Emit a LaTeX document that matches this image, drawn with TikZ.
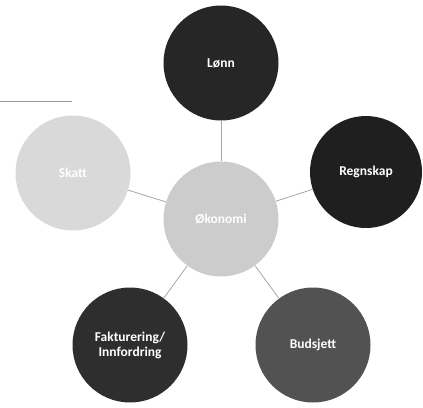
\documentclass[tikz,border=0pt]{standalone}
\usepackage{fontspec}
\setmainfont{Carlito}
\begin{document}
\begin{tikzpicture}[x=1pt,y=-1pt,
  bub/.style={circle,minimum size=115pt,inner sep=0pt,draw=none,align=center,font=\bfseries\fontsize{13.5}{15}\selectfont,text=white},
  link/.style={draw=gray!70,line width=0.8pt}]
\useasboundingbox (0,0) rectangle (423,407);
\node[bub,fill=black!85] (lonn) at (221,63) {Lønn};
\node[bub,fill=black!88,minimum size=112pt] (regn) at (366,172) {Regnskap};
\node[bub,fill=black!20] (oko) at (221,219) {Økonomi};
\node[bub,fill=black!15] (skatt) at (73,173) {Skatt};
\node[bub,fill=black!82] (fakt) at (130,345) {Fakturering/\\Innfordring};
\node[bub,fill=black!68] (buds) at (313,345) {Budsjett};
\draw[link] (oko) -- (lonn);
\draw[link] (oko) -- (regn);
\draw[link] (oko) -- (skatt);
\draw[link] (oko) -- (fakt);
\draw[link] (oko) -- (buds);
\coordinate (h1) at (0,101);
\coordinate (h2) at (72,101);
\draw[draw=gray!80,line width=0.8pt] (h1) -- (h2);
\end{tikzpicture}
\end{document}
